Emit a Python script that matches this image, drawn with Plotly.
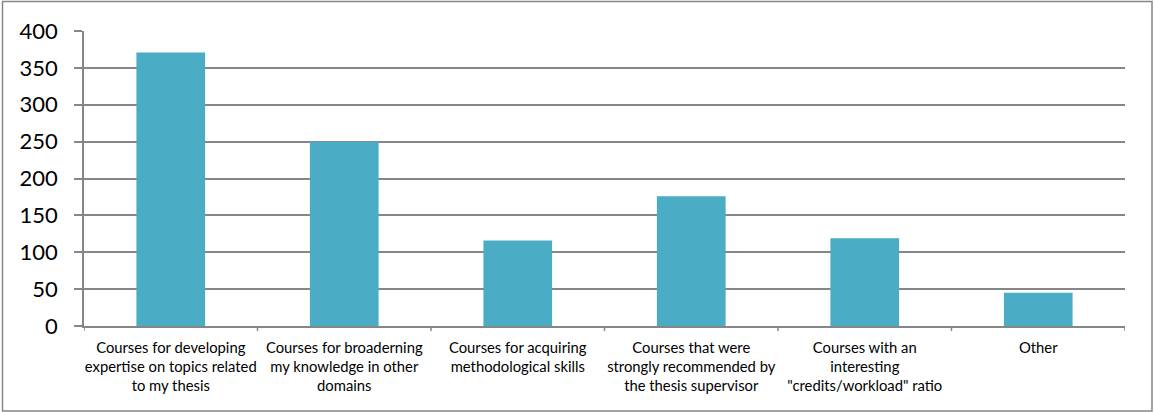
import plotly.graph_objects as go

categories = [
    "Courses for developing<br>expertise on topics related<br>to my thesis",
    "Courses for broaderning<br>my knowledge in other<br>domains",
    "Courses for acquiring<br>methodological skills",
    "Courses that were<br>strongly recommended by<br>the thesis supervisor",
    "Courses with an<br>interesting<br>\"credits/workload\" ratio",
    "Other",
]
counts = [371, 250, 116, 176, 119, 45]
y_ticks = [0, 50, 100, 150, 200, 250, 300, 350, 400]

W, H = 1154, 412
L, R, T, B = 84, 29, 31, 86
grey = "#868686"

fig = go.Figure(
    go.Bar(
        x=list(range(len(categories))),
        y=counts,
        marker=dict(color="#4BACC6", line=dict(width=0)),
        hoverinfo="y",
    )
)

fig.update_layout(
    width=W,
    height=H,
    margin=dict(l=L, r=R, t=T, b=B, pad=0),
    paper_bgcolor="white",
    plot_bgcolor="white",
    bargap=0.604,
    showlegend=False,
    font=dict(family="Lato, Open Sans, sans-serif", color="#000000"),
)

fig.update_xaxes(
    tickmode="array",
    tickvals=list(range(len(categories))),
    ticktext=categories,
    range=[-0.5, len(categories) - 0.5],
    showline=True,
    linecolor=grey,
    linewidth=1.5,
    ticks="",
    showgrid=False,
    tickfont=dict(size=14.8, family="Lato, Open Sans, sans-serif"),
    ticklabelstandoff=7,
)

fig.update_yaxes(
    range=[0, 400],
    tickmode="array",
    tickvals=y_ticks,
    showline=True,
    linecolor=grey,
    linewidth=1.5,
    ticks="outside",
    ticklen=8,
    tickcolor=grey,
    tickwidth=1.5,
    showgrid=True,
    gridcolor=grey,
    gridwidth=1.5,
    zeroline=False,
    tickfont=dict(size=22, family="Lato, Open Sans, sans-serif"),
    ticklabelstandoff=12,
)

# category separator ticks below the x axis
ph = H - T - B
pw = W - L - R
for k in range(len(categories) + 1):
    fig.add_shape(
        type="line",
        xref="x",
        yref="paper",
        x0=k - 0.5,
        x1=k - 0.5,
        y0=0,
        y1=-5 / ph,
        line=dict(color=grey, width=1.5),
    )

# outer chart frame, given in pixel positions of the page
def px_x(px):
    return (px - L) / pw

def px_y(py):
    return (H - B - py) / ph

fig.add_shape(
    type="rect",
    xref="paper",
    yref="paper",
    x0=px_x(2.5),
    x1=px_x(W - 2),
    y0=px_y(H - 1),
    y1=px_y(1.5),
    line=dict(color=grey, width=1.5),
    fillcolor="rgba(0,0,0,0)",
)

fig.write_html("out.html")
